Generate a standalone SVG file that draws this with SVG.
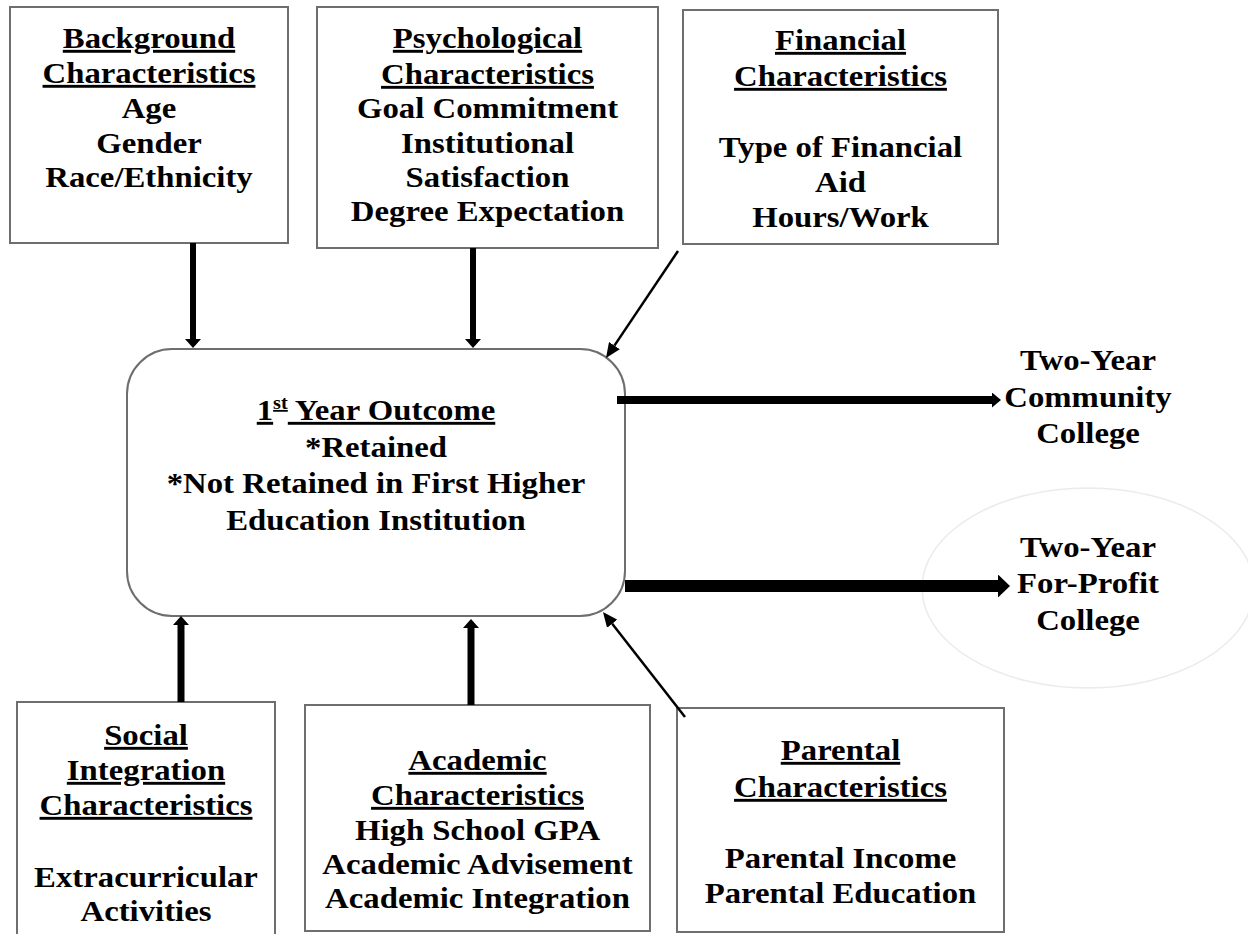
<svg xmlns="http://www.w3.org/2000/svg" width="1248" height="934" viewBox="0 0 1248 934">
  <style>
    .box { fill: #ffffff; stroke: #6e6e6e; stroke-width: 2; }
    .t { font-family: "Liberation Serif", "Times New Roman", serif; font-weight: bold; font-size: 29px; fill: #000; text-anchor: middle; }
    .u { text-decoration: underline; text-decoration-thickness: 2.5px; text-underline-offset: 3px; }
    .thick { stroke: #000; fill: none; }
    .thin { stroke: #000; stroke-width: 2.5; fill: none; }
  </style>
  <defs>
    <marker id="mThick" viewBox="0 0 9 16" refX="0" refY="8" markerWidth="9" markerHeight="16" markerUnits="userSpaceOnUse" orient="auto">
      <path d="M0,0 L9,8 L0,16 Z" fill="#000"/>
    </marker>
    <marker id="mThin" viewBox="0 0 15 13" refX="0" refY="6.5" markerWidth="15" markerHeight="13" markerUnits="userSpaceOnUse" orient="auto">
      <path d="M0,0 L15,6.5 L0,13 Z" fill="#000"/>
    </marker>
    <marker id="mRight1" viewBox="0 0 9 15" refX="0" refY="7.5" markerWidth="9" markerHeight="15" markerUnits="userSpaceOnUse" orient="auto">
      <path d="M0,0 L9,7.5 L0,15 Z" fill="#000"/>
    </marker>
    <marker id="mRight2" viewBox="0 0 12 23" refX="0" refY="11.5" markerWidth="12" markerHeight="23" markerUnits="userSpaceOnUse" orient="auto">
      <path d="M0,0 L12,11.5 L0,23 Z" fill="#000"/>
    </marker>
  </defs>

  <rect width="1248" height="934" fill="#ffffff"/>

  <ellipse id="highlight" cx="1088" cy="588" rx="166" ry="100" fill="none" stroke="#ebebeb" stroke-width="1.5"/>

  <g id="background">
    <rect class="box" x="10" y="7" width="278" height="236"/>
    <g transform="translate(149,0) scale(1.13,1)">
      <text class="t u" x="0" y="48">Background</text>
      <text class="t u" x="0" y="83">Characteristics</text>
      <text class="t" x="0" y="118">Age</text>
      <text class="t" x="0" y="153">Gender</text>
      <text class="t" x="0" y="187">Race/Ethnicity</text>
    </g>
  </g>

  <g id="psychological">
    <rect class="box" x="317" y="7" width="341" height="241"/>
    <g transform="translate(487.5,0) scale(1.13,1)">
      <text class="t u" x="0" y="48">Psychological</text>
      <text class="t u" x="0" y="84">Characteristics</text>
      <text class="t" x="0" y="118">Goal Commitment</text>
      <text class="t" x="0" y="153">Institutional</text>
      <text class="t" x="0" y="187">Satisfaction</text>
      <text class="t" x="0" y="221">Degree Expectation</text>
    </g>
  </g>

  <g id="financial">
    <rect class="box" x="683" y="10" width="315" height="234"/>
    <g transform="translate(840.5,0) scale(1.13,1)">
      <text class="t u" x="0" y="50">Financial</text>
      <text class="t u" x="0" y="86">Characteristics</text>
      <text class="t" x="0" y="157">Type of Financial</text>
      <text class="t" x="0" y="192">Aid</text>
      <text class="t" x="0" y="227">Hours/Work</text>
    </g>
  </g>

  <g id="outcome">
    <rect class="box" x="127" y="349" width="498" height="267" rx="45" ry="45"/>
    <g transform="translate(376,0) scale(1.13,1)">
      <text class="t u" x="0" y="420">1<tspan font-size="18" dy="-11">st</tspan><tspan dy="11"> Year Outcome</tspan></text>
      <text class="t" x="0" y="457">*Retained</text>
      <text class="t" x="0" y="493">*Not Retained in First Higher</text>
      <text class="t" x="0" y="530">Education Institution</text>
    </g>
  </g>

  <g id="community">
    <g transform="translate(1088,0) scale(1.13,1)">
      <text class="t" x="0" y="370">Two-Year</text>
      <text class="t" x="0" y="407">Community</text>
      <text class="t" x="0" y="443">College</text>
    </g>
  </g>

  <g id="forprofit">
    <g transform="translate(1088,0) scale(1.13,1)">
      <text class="t" x="0" y="557">Two-Year</text>
      <text class="t" x="0" y="593">For-Profit</text>
      <text class="t" x="0" y="630">College</text>
    </g>
  </g>

  <g id="social">
    <rect class="box" x="17" y="702" width="258" height="245"/>
    <g transform="translate(146,0) scale(1.13,1)">
      <text class="t u" x="0" y="745">Social</text>
      <text class="t u" x="0" y="780">Integration</text>
      <text class="t u" x="0" y="815">Characteristics</text>
      <text class="t" x="0" y="887">Extracurricular</text>
      <text class="t" x="0" y="921">Activities</text>
    </g>
  </g>

  <g id="academic">
    <rect class="box" x="305" y="705" width="345" height="226"/>
    <g transform="translate(477.5,0) scale(1.13,1)">
      <text class="t u" x="0" y="770">Academic</text>
      <text class="t u" x="0" y="805">Characteristics</text>
      <text class="t" x="0" y="840">High School GPA</text>
      <text class="t" x="0" y="874">Academic Advisement</text>
      <text class="t" x="0" y="908">Academic Integration</text>
    </g>
  </g>

  <g id="parental">
    <rect class="box" x="677" y="708" width="327" height="224"/>
    <g transform="translate(840.5,0) scale(1.13,1)">
      <text class="t u" x="0" y="760">Parental</text>
      <text class="t u" x="0" y="797">Characteristics</text>
      <text class="t" x="0" y="868">Parental Income</text>
      <text class="t" x="0" y="903">Parental Education</text>
    </g>
  </g>

  <g id="connectors">
    <line class="thick" x1="193" y1="243" x2="193" y2="339" stroke-width="6" marker-end="url(#mThick)"/>
    <line class="thick" x1="473" y1="248" x2="473" y2="339" stroke-width="6" marker-end="url(#mThick)"/>
    <line class="thin" x1="678" y1="251" x2="614.4" y2="345.6" marker-end="url(#mThin)"/>
    <line class="thick" x1="181" y1="702" x2="181" y2="625" stroke-width="7" marker-end="url(#mThick)"/>
    <line class="thick" x1="471" y1="705" x2="471" y2="628" stroke-width="7" marker-end="url(#mThick)"/>
    <line class="thin" x1="685" y1="717" x2="612.2" y2="623.8" marker-end="url(#mThin)"/>
    <line class="thick" x1="617" y1="400" x2="992" y2="400" stroke-width="8" marker-end="url(#mRight1)"/>
    <line class="thick" x1="625" y1="586" x2="998" y2="586" stroke-width="12" marker-end="url(#mRight2)"/>
  </g>
</svg>
